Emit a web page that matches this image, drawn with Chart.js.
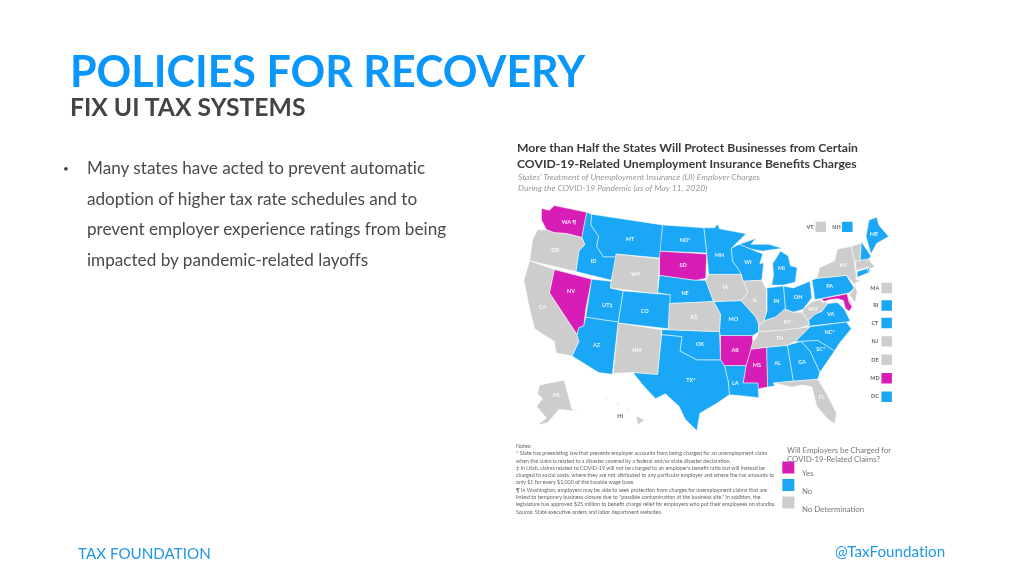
<!DOCTYPE html>
<html>
<head>
<meta charset="utf-8">
<title>Policies for Recovery</title>
<script src="https://cdn.jsdelivr.net/npm/chart.js@4"></script>
<style>
  html, body { margin: 0; padding: 0; background: #fff; }
  body { width: 1024px; height: 576px; overflow: hidden; position: relative; font-family: Lato, sans-serif; }
  #map { position: absolute; left: 0; top: 0; filter: blur(0.7px); }
  .txt { position: absolute; white-space: nowrap; }
  #title { left: 70px; top: 45px; font-size: 43px; font-weight: 700; color: #0a96fa; line-height: 52px; }
  #subtitle { left: 70px; top: 93px; font-size: 24.7px; font-weight: 700; color: #444; line-height: 28px; }
  #bullet { left: 63px; top: 153px; font-size: 10px; color: #444; line-height: 30.7px; }
  #points { left: 87px; top: 153px; font-size: 17.15px; color: #4a4a4a; line-height: 30.7px; font-variant-ligatures: none; }
  #footLeft { left: 78px; top: 544px; font-size: 15.2px; color: #1f96e6; line-height: 18px; font-variant-ligatures: none; }
  #footRight { left: 835px; top: 542px; font-size: 15.2px; color: #1f96e6; line-height: 18px; font-variant-ligatures: none; }
  .blur { filter: blur(0.55px); }
  #mapTitle { left: 517px; top: 140px; font-size: 12.2px; font-weight: 700; color: #3a3a3a; line-height: 15.5px; }
  #mapSub { left: 518px; top: 172px; font-size: 8.5px; font-style: italic; color: #999; line-height: 10.5px; }
  #notes { left: 516px; top: 443px; font-size: 5.35px; color: #666; line-height: 7.3px; }
  #keyTitle { left: 787px; top: 446px; font-size: 7.8px; color: #777; line-height: 8.6px; }
  .key { left: 802px; font-size: 7.8px; color: #777; line-height: 10px; }
</style>
</head>
<body>
<canvas id="map" width="1024" height="576"></canvas>

<div class="txt" id="title">POLICIES FOR RECOVERY</div>
<div class="txt" id="subtitle">FIX UI TAX SYSTEMS</div>
<div class="txt" id="bullet">•</div>
<div class="txt" id="points">Many states have acted to prevent automatic<br>adoption of higher tax rate schedules and to<br>prevent employer experience ratings from being<br>impacted by pandemic-related layoffs</div>

<div class="txt blur" id="mapTitle">More than Half the States Will Protect Businesses from Certain<br>COVID-19-Related Unemployment Insurance Benefits Charges</div>
<div class="txt blur" id="mapSub">States' Treatment of Unemployment Insurance (UI) Employer Charges<br>During the COVID-19 Pandemic (as of May 11, 2020)</div>
<div class="txt blur" id="notes">Notes:<br>* State has preexisting law that prevents employer accounts from being charged for an unemployment claim<br>when the claim is related to a disaster covered by a federal and/or state disaster declaration.<br>‡ In Utah, claims related to COVID-19 will not be charged to an employer's benefit ratio but will instead be<br>charged to social costs, where they are not attributed to any particular employer and where the tax amounts to<br>only $1 for every $1,000 of the taxable wage base.<br>¶ In Washington, employers may be able to seek protection from charges for unemployment claims that are<br>linked to temporary business closure due to "possible contamination at the business site." In addition, the<br>legislature has approved $25 million to benefit charge relief for employers who put their employees on standby.<br>Source: State executive orders and labor department websites.</div>
<div class="txt blur" id="keyTitle">Will Employers be Charged for<br>COVID-19-Related Claims?</div>
<div class="txt blur key" style="top:468px">Yes</div>
<div class="txt blur key" style="top:486px">No</div>
<div class="txt blur key" style="top:504px">No Determination</div>

<div class="txt" id="footLeft">TAX FOUNDATION</div>
<div class="txt" id="footRight">@TaxFoundation</div>

<script>
// state outlines (map units = picture pixels)
const WA = [[542,206],[550,208],[555,203],[588,210],[583,236],[568,232],[555,231],[547,228],[542,218]];
const OR = [[547,228],[555,231],[568,232],[583,236],[586,243],[580,250],[577,271],[530,260],[533,238],[538,228]];
const CA = [[530,260],[555,269],[550,293],[578,336],[580,343],[573,358],[557,355],[555,343],[535,330],[530,310],[524,280]];
const NV = [[555,269],[593,279],[587,310],[585,327],[580,329],[578,336],[550,293]];
const ID = [[588,210],[593,212],[592,223],[600,235],[598,245],[605,256],[618,256],[613,280],[577,271],[580,250],[586,243],[583,236]];
const MT = [[593,212],[665,223],[662,257],[618,253],[618,256],[605,256],[598,245],[600,235],[592,223]];
const WY = [[618,253],[662,258],[660,294],[612,288],[613,280]];
const UT = [[593,279],[613,281],[612,288],[625,291],[620,323],[587,318]];
const AZ = [[587,318],[620,323],[614,377],[600,375],[573,358],[580,343],[578,337],[580,329],[585,327]];
const CO = [[625,291],[673,295],[671,330],[620,324]];
const NM = [[620,324],[664,331],[664,336],[660,377],[635,375],[615,376]];
const ND = [[665,223],[707,226],[710,252],[662,250]];
const SD = [[662,250],[710,253],[709,278],[700,280],[697,280],[662,275]];
const NE = [[662,275],[697,280],[709,280],[717,302],[672,304],[673,295],[660,293]];
const KS = [[672,304],[717,302],[724,315],[723,333],[671,331]];
const OK = [[664,331],[671,331],[723,333],[724,362],[700,362],[683,353],[685,338],[664,336]];
const TX = [[664,336],[685,338],[683,353],[700,362],[724,362],[728,368],[732,385],[733,398],[720,407],[703,417],[700,435],[688,423],[682,410],[668,397],[658,402],[645,388],[635,375],[660,377]];
const MN = [[707,226],[718,226],[721,222],[723,227],[750,232],[735,247],[736,260],[743,270],[745,274],[712,274],[710,252]];
const IA = [[712,274],[745,274],[747,281],[752,292],[745,301],[717,302],[709,280]];
const MO = [[717,302],[745,301],[753,310],[760,318],[763,325],[763,333],[757,337],[724,337],[723,333],[724,315]];
const AR = [[724,337],[757,337],[757,343],[755,351],[750,368],[728,368],[724,362]];
const LA = [[728,368],[750,368],[747,386],[762,386],[763,401],[745,399],[733,398],[732,385]];
const MS = [[755,351],[771,349],[772,390],[762,392],[762,386],[747,386],[750,368]];
const AL = [[771,349],[792,347],[798,384],[778,386],[779,389],[772,390]];
const GA = [[792,347],[806,343],[815,353],[825,375],[823,382],[798,384]];
const SC = [[806,343],[823,342],[840,353],[825,375],[815,353]];
const NC = [[800,343],[815,328],[852,323],[857,330],[845,345],[840,353],[823,342],[806,343]];
const TN = [[763,333],[790,331],[806,329],[815,328],[800,343],[792,347],[771,349],[755,351],[757,343],[760,340]];
const KY = [[763,333],[763,325],[766,324],[768,322],[780,318],[789,310],[798,313],[807,313],[813,322],[814,326],[806,329],[790,331]];
const VA = [[808,328],[814,326],[813,322],[820,315],[827,312],[833,304],[843,303],[850,310],[856,322],[852,323]];
const WV = [[808,310],[817,302],[825,300],[828,303],[833,302],[833,304],[827,312],[820,315],[813,322],[807,313]];
const FL = [[778,386],[798,384],[823,382],[832,397],[842,417],[840,428],[833,423],[822,410],[817,390],[807,388],[797,390],[783,387]];
const IL = [[747,281],[766,280],[771,290],[771,312],[768,322],[766,324],[763,325],[760,318],[753,310],[745,301],[752,292]];
const IN = [[771,288],[788,286],[790,310],[780,318],[768,322],[771,312]];
const OH = [[788,286],[798,288],[815,281],[817,298],[808,310],[798,313],[790,310]];
const WI = [[735,247],[743,243],[755,248],[767,253],[764,263],[768,262],[766,280],[747,281],[745,274],[743,270],[736,260]];
const MI = [[777,263],[785,250],[793,255],[795,265],[802,267],[800,282],[788,285],[776,285],[778,275]];
const UP = [[743,243],[760,237],[755,243],[773,243],[787,247],[767,250],[755,248]];
const PA = [[817,280],[822,278],[852,275],[860,288],[855,293],[820,300]];
const NY = [[822,278],[825,267],[840,260],[843,248],[857,245],[860,260],[862,275],[862,280],[868,279],[860,284],[852,275]];
const VT = [[857,245],[867,242],[866,260],[860,260]];
const NH = [[867,240],[877,255],[875,258],[866,260]];
const ME = [[872,235],[875,218],[883,215],[885,223],[895,235],[883,242],[877,253]];
const MA = [[861,260],[875,258],[877,262],[881,265],[878,268],[873,267],[862,270]];
const CT = [[863,271],[873,268],[875,272],[863,277]];
const RI = [[873,268],[876,267],[876,271],[875,272]];
const NJ = [[860,283],[863,292],[861,303],[855,295],[860,288]];
const DE = [[853,294],[858,305],[858,307],[855,303]];
const MD = [[827,299],[853,294],[855,303],[858,307],[855,312],[851,309],[849,301],[843,299],[835,300],[829,302]];
const AK = [[540,388],[565,383],[573,413],[595,423],[578,415],[560,413],[548,427],[538,429],[547,422],[537,410],[543,402],[538,397]];
const HI = [[638,420],[647,424],[640,429]];
const HI_MAUI = [[629,412],[632,413],[630,414]];
const HI_OAHU = [[619,406],[622,407],[620,408]];
const HI_KAUAI = [[606,401],[609,402],[607,403]];

const yesStates = [WA, NV, SD, AR, MS, MD];
const noStates = [ID, MT, UT, AZ, CO, ND, NE, OK, TX, MN, MO, LA, AL, GA, SC, NC, VA, IN, OH, WI, MI, UP, PA, NH, ME, CT, RI];
const noDeterminationStates = [OR, CA, WY, NM, KS, IA, IL, KY, TN, WV, FL, NY, VT, MA, NJ, DE, AK, HI, HI_MAUI, HI_OAHU, HI_KAUAI];

// state labels on the map
const mapLabels = ['WA ¶','OR','CA','NV','ID','MT','ND*','SD','WY','NE','UT‡','CO','KS','AZ','NM','TX*','OK','MN','IA','MO','AR','LA','MS','AL','GA','SC*','NC*','TN','KY','VA','WV','IL','IN','OH','MI','WI','PA','NY','ME','FL','AK'];
const mapLabelX = [570,556,543,572,595,632,688,686,638,688,609,647,697,598,639,694,703,723,729,737,739,739,761,782,807,826,835,784,792,836,818,759,781,803,786,752,835,849,880,827,557];
const mapLabelY = [220,249,308,291,260,238,239,265,274,293,306,312,318,347,352,383,346,254,287,320,352,386,368,365,364,351,334,340,323,315,310,301,302,297,268,261,286,265,233,401,398];

// small-state squares beside the map
const insetLabels = ['VT','NH','MA','RI','CT','NJ','DE','MD','DC'];
const insetX = [826,853,893,893,893,893,893,893,893];
const insetY = [225,225,288,306,324,343,362,381,400];
const insetLabelX = [815,842,881,882,881,881,881,881,881];
const insetClaims = ['none','no','none','no','no','none','none','yes','no'];

// key
const keyX = [793,793,793];
const keyY = [473,491,509];
const keyClaims = ['yes','no','none'];

const claimColors = { yes: '#d71db5', no: '#1aa7f6', none: '#cdcdcd' };

function toPoints(outline) {
    const pts = outline.map(p => ({ x: p[0], y: p[1] }));
    pts.push(pts[0]);
    return pts;
}

function stateDatasets(group, color) {
    return group.map(outline => ({
        type: 'scatter',
        showLine: true,
        data: toPoints(outline),
        fill: 'shape',
        backgroundColor: color,
        borderColor: '#ffffff',
        borderWidth: 0.5,
        pointRadius: 0,
        tension: 0
    }));
}

function squareDataset(xs, ys, claim, claims, size) {
    const data = [];
    xs.forEach((x, i) => { if (claims[i] === claim) data.push({ x: x, y: ys[i] }); });
    return {
        type: 'scatter',
        data: data,
        pointStyle: 'rect',
        pointRadius: size,
        backgroundColor: claimColors[claim],
        borderWidth: 0
    };
}

// draws the state abbreviations at their map positions, through the scales
const labelPlugin = {
    id: 'stateLabels',
    afterDatasetsDraw(chart) {
        const ctx = chart.ctx;
        const sx = chart.scales.x, sy = chart.scales.y;
        ctx.save();
        ctx.textAlign = 'center';
        ctx.textBaseline = 'middle';
        ctx.font = '700 5.5px Lato';
        ctx.fillStyle = 'rgba(255,255,255,0.9)';
        mapLabels.forEach((t, i) => ctx.fillText(t, sx.getPixelForValue(mapLabelX[i]), sy.getPixelForValue(mapLabelY[i])));
        ctx.fillStyle = '#666';
        insetLabels.forEach((t, i) => ctx.fillText(t, sx.getPixelForValue(insetLabelX[i]), sy.getPixelForValue(insetY[i])));
        ctx.fillText('HI', sx.getPixelForValue(622), sy.getPixelForValue(420));
        ctx.restore();
    }
};

const datasets = [
    ...stateDatasets(noDeterminationStates, claimColors.none),
    ...stateDatasets(noStates, claimColors.no),
    ...stateDatasets(yesStates, claimColors.yes)
];
['yes', 'no', 'none'].forEach(c => {
    datasets.push(squareDataset(insetX, insetY, c, insetClaims, 7.4));
    datasets.push(squareDataset(keyX, keyY, c, keyClaims, 8.5));
});

new Chart(document.getElementById('map').getContext('2d'), {
    type: 'scatter',
    data: { datasets: datasets },
    plugins: [labelPlugin],
    options: {
        responsive: false,
        animation: false,
        layout: { padding: 0 },
        plugins: { legend: { display: false }, tooltip: { enabled: false } },
        scales: {
            x: { type: 'linear', display: false, min: 0, max: 1024 },
            y: { type: 'linear', display: false, min: 0, max: 576, reverse: true }
        }
    }
});
</script>
</body>
</html>
